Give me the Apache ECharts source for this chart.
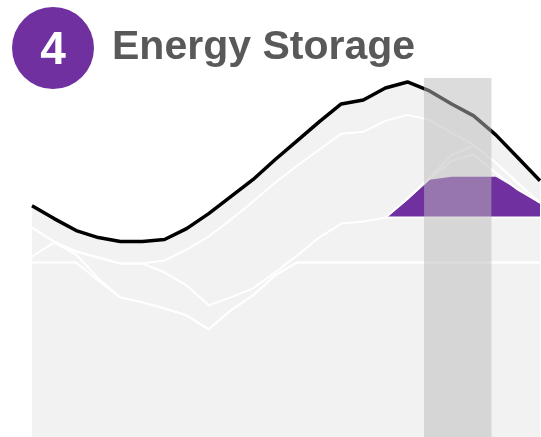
<!DOCTYPE html>
<html>
<head>
<meta charset="utf-8">
<script src="https://cdn.jsdelivr.net/npm/echarts@6/dist/echarts.min.js"></script>
<style>
  html, body { margin: 0; padding: 0; background: #fff; }
  #chart { width: 541px; height: 437px; }
</style>
</head>
<body>
<div id="chart"></div>
<script>
// hours of the day
var hours = [0, 1, 2, 3, 4, 5, 6, 7, 8, 9, 10, 11, 12, 13, 14, 15, 16, 17, 18, 19, 20, 21, 22, 23];

// total load (black line)
var demand = [23.2, 21.9, 20.7, 20.0, 19.6, 19.6, 19.8, 20.9, 22.4, 24.1, 25.8, 27.8,
              29.7, 31.6, 33.4, 33.8, 35.0, 35.6, 34.7, 33.4, 32.2, 30.3, 28.0, 25.7];
// stacked layer tops (white lines), highest first
var layerA = [21.0, 19.6, 18.6, 18.0, 17.4, 17.4, 17.7, 18.8, 20.1, 21.8, 23.6, 25.5,
              27.2, 28.8, 30.4, 30.6, 31.7, 32.3, 31.8, 30.5, 29.3, 27.5, 25.5, 23.5];
var layerE = [null, null, null, null, null, null, null, null, null, null, null, null,
              null, null, null, null, 22.0, 23.9, 26.0, 28.3, 29.2, 27.5, 25.4, 23.5];
var layerZ = [null, null, null, null, null, null, null, null, null, null, null, null,
              null, null, null, null, 22.0, 23.9, 25.9, 27.7, 28.3, 26.5, 24.8, 23.5];
// energy storage top
var storage = [null, null, null, null, null, null, null, null, null, null, null, null,
               null, null, null, null, 22.0, 23.9, 25.8, 26.1, 26.1, 26.1, 24.8, 23.5];
var layerD = [21.0, 19.6, 18.6, 18.0, 17.4, 17.4, 16.5, 15.2, 13.2, 14.0, 14.9, 16.5,
              18.2, 20.0, 21.4, 21.6, 22.0, 22.0, 22.0, 22.0, 22.0, 22.0, 22.0, 22.0];
var layerB = [18.1, 19.5, 18.3, 15.9, 14.0, 13.5, 12.9, 12.2, 10.8, 12.7, 14.2, 16.2,
              17.5, 17.5, 17.5, 17.5, 17.5, 17.5, 17.5, 17.5, 17.5, 17.5, 17.5, 17.5];
var layerG = [17.5, 17.5, 17.5, 15.7, 14.0, 13.5, 12.9, 12.2, 10.8, 12.7, 14.2, 16.2,
              17.5, 17.5, 17.5, 17.5, 17.5, 17.5, 17.5, 17.5, 17.5, 17.5, 17.5, 17.5];
// evening peak window
var peakWindow = [17.75, 20.8];

var chart = echarts.init(document.getElementById('chart'));

function pairs(vals) {
    return hours.map(function (h, i) { return [h, vals[i]]; });
}

function layer(name, vals, lineColor, lineWidth) {
    return {
        name: name,
        type: 'line',
        data: pairs(vals),
        showSymbol: false,
        silent: true,
        lineStyle: { color: lineColor, width: lineWidth },
        areaStyle: { color: '#f2f2f2', opacity: 1 }
    };
}

var option = {
    animation: false,
    grid: { left: 32, right: 1, top: 78, bottom: 0 },
    xAxis: {
        type: 'value', min: 0, max: 23, show: false,
        splitLine: { show: false }
    },
    yAxis: {
        type: 'value', min: 0, max: 36, show: false,
        splitLine: { show: false }
    },
    graphic: [
        {
            type: 'circle',
            shape: { cx: 53, cy: 48, r: 41 },
            style: { fill: '#7030a0' }
        },
        {
            type: 'text',
            x: 53, y: 51,
            style: {
                text: '4', fill: '#fff',
                font: 'bold 46px "Liberation Sans", Arial, sans-serif',
                align: 'center', verticalAlign: 'middle'
            }
        },
        {
            type: 'text',
            x: 112, y: 48,
            style: {
                text: 'Energy Storage', fill: '#595959',
                font: 'bold 41px "Liberation Sans", Arial, sans-serif',
                align: 'left', verticalAlign: 'middle'
            }
        }
    ],
    series: [
        layer('Demand', demand, '#000', 3.5),
        layer('A', layerA, '#fff', 2),
        layer('E', layerE, '#fff', 2),
        layer('Z', layerZ, '#fff', 2),
        {
            name: 'Energy Storage',
            type: 'line',
            data: pairs(storage),
            showSymbol: false,
            silent: true,
            lineStyle: { width: 0 },
            areaStyle: { color: '#7030a0', opacity: 1 }
        },
        layer('D', layerD, '#fff', 2),
        layer('B', layerB, '#fff', 2),
        layer('G', layerG, '#fff', 2),
        {
            name: 'Peak',
            type: 'line',
            data: [],
            z: 10,
            markArea: {
                silent: true,
                z: 10,
                itemStyle: { color: 'rgba(186,186,186,0.51)' },
                data: [[{ xAxis: peakWindow[0] }, { xAxis: peakWindow[1] }]]
            }
        }
    ]
};

chart.setOption(option);
</script>
</body>
</html>
